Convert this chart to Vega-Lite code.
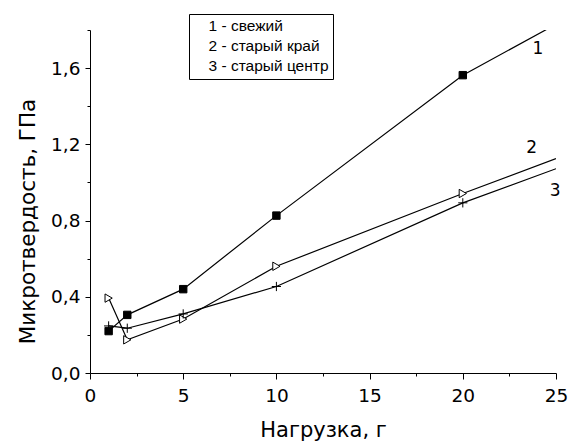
{
  "$schema": "https://vega.github.io/schema/vega-lite/v6.json",
  "width": 466,
  "height": 343,
  "autosize": {"type": "none"},
  "padding": {"left": 90, "top": 30, "right": 13, "bottom": 68},
  "background": "white",
  "config": {
    "view": {"stroke": null},
    "font": "DejaVu Sans",
    "axis": {
      "grid": false,
      "domainColor": "black",
      "tickColor": "black",
      "labelColor": "black",
      "titleColor": "black",
      "labelFont": "DejaVu Sans",
      "titleFont": "DejaVu Sans",
      "labelFontSize": 18.5,
      "titleFontSize": 21,
      "titleFontWeight": "normal",
      "domainWidth": 1,
      "tickWidth": 1
    },
    "legend": {
      "labelFont": "Liberation Sans",
      "labelFontSize": 15.5,
      "labelColor": "black"
    }
  },
  "datasets": {
    "curves": [
      {"series": "1", "label": "1 - свежий", "load": 1, "hv": 0.22, "marker": true},
      {"series": "1", "label": "1 - свежий", "load": 2, "hv": 0.305, "marker": true},
      {"series": "1", "label": "1 - свежий", "load": 5, "hv": 0.44, "marker": true},
      {"series": "1", "label": "1 - свежий", "load": 10, "hv": 0.826, "marker": true},
      {"series": "1", "label": "1 - свежий", "load": 20, "hv": 1.563, "marker": true},
      {"series": "1", "label": "1 - свежий", "load": 25, "hv": 1.83, "marker": false},
      {"series": "2", "label": "2 - старый край", "load": 1, "hv": 0.393, "marker": true},
      {"series": "2", "label": "2 - старый край", "load": 2, "hv": 0.174, "marker": true},
      {"series": "2", "label": "2 - старый край", "load": 5, "hv": 0.283, "marker": true},
      {"series": "2", "label": "2 - старый край", "load": 10, "hv": 0.56, "marker": true},
      {"series": "2", "label": "2 - старый край", "load": 20, "hv": 0.942, "marker": true},
      {"series": "2", "label": "2 - старый край", "load": 25, "hv": 1.125, "marker": false},
      {"series": "3", "label": "3 - старый центр", "load": 1, "hv": 0.247, "marker": true},
      {"series": "3", "label": "3 - старый центр", "load": 2, "hv": 0.235, "marker": true},
      {"series": "3", "label": "3 - старый центр", "load": 5, "hv": 0.31, "marker": true},
      {"series": "3", "label": "3 - старый центр", "load": 10, "hv": 0.454, "marker": true},
      {"series": "3", "label": "3 - старый центр", "load": 20, "hv": 0.893, "marker": true},
      {"series": "3", "label": "3 - старый центр", "load": 25, "hv": 1.072, "marker": false}
    ],
    "tags": [
      {"tag": "1", "load": 24.03, "hv": 1.70},
      {"tag": "2", "load": 23.7, "hv": 1.183},
      {"tag": "3", "load": 24.95, "hv": 0.954}
    ]
  },
  "resolve": {"axis": {"x": "independent", "y": "independent"}},
  "layer": [
    {
      "data": {"name": "curves"},
      "mark": {"type": "line", "clip": true, "strokeWidth": 1.2},
      "encoding": {
        "x": {
          "field": "load", "type": "quantitative",
          "scale": {"domain": [0, 25], "nice": false, "zero": false},
          "axis": {
            "orient": "bottom",
            "values": [0, 5, 10, 15, 20, 25],
            "tickSize": 6,
            "labelPadding": 7,
            "labelFlush": false,
            "labelOverlap": false,
            "title": "Нагрузка, г",
            "titleBaseline": "alphabetic",
            "titleY": 63,
            "titleX": 233
          }
        },
        "y": {
          "field": "hv", "type": "quantitative",
          "scale": {"domain": [0, 1.8], "nice": false, "zero": false},
          "axis": {
            "orient": "left",
            "values": [0, 0.4, 0.8, 1.2, 1.6],
            "labelExpr": "replace(format(datum.value, '.1f'), '.', ',')",
            "tickSize": 5,
            "labelPadding": 5,
            "labelFlush": false,
            "labelOverlap": false,
            "title": "Микротвердость, ГПа",
            "titleFontSize": 21.5,
            "titleAngle": -90,
            "titleAlign": "center",
            "titleBaseline": "alphabetic",
            "titleX": -56,
            "titleY": 191
          }
        },
        "detail": {"field": "series"},
        "order": {"field": "load", "type": "quantitative"},
        "color": {
          "field": "label", "type": "nominal",
          "scale": {"range": ["black", "black", "black"]},
          "legend": {
            "title": null,
            "orient": "none",
            "legendX": 99,
            "legendY": -16,
            "strokeColor": "black",
            "fillColor": "white",
            "padding": 4,
            "symbolSize": 0,
            "symbolOpacity": 0,
            "symbolStrokeWidth": 0,
            "labelOffset": 0,
            "rowPadding": 3
          }
        }
      }
    },
    {
      "data": {"name": "curves"},
      "transform": [{"filter": "datum.marker"}],
      "mark": {"type": "point", "filled": false, "stroke": "black", "strokeWidth": 1, "opacity": 1},
      "encoding": {
        "x": {
          "field": "load", "type": "quantitative",
          "axis": {
            "orient": "bottom",
            "values": [2.5, 7.5, 12.5, 17.5, 22.5],
            "tickSize": 3,
            "domain": false,
            "labels": false,
            "title": null
          }
        },
        "y": {
          "field": "hv", "type": "quantitative",
          "axis": {
            "orient": "left",
            "values": [0.2, 0.6, 1.0, 1.4, 1.8],
            "tickSize": 3,
            "domain": false,
            "labels": false,
            "title": null
          }
        },
        "shape": {
          "field": "series", "type": "nominal",
          "scale": {"domain": ["1", "2", "3"], "range": ["square", "triangle-right", "M-1,0H1M0,-1V1"]},
          "legend": null
        },
        "fill": {
          "field": "series", "type": "nominal",
          "scale": {"domain": ["1", "2", "3"], "range": ["black", "white", "transparent"]},
          "legend": null
        },
        "size": {
          "field": "series", "type": "nominal",
          "scale": {"domain": ["1", "2", "3"], "range": [55, 85, 64]},
          "legend": null
        }
      }
    },
    {
      "data": {"name": "tags"},
      "mark": {"type": "text", "fontSize": 17, "font": "DejaVu Sans", "color": "black", "align": "center", "baseline": "middle"},
      "encoding": {
        "x": {"field": "load", "type": "quantitative", "axis": null},
        "y": {"field": "hv", "type": "quantitative", "axis": null},
        "text": {"field": "tag"}
      }
    }
  ]
}
